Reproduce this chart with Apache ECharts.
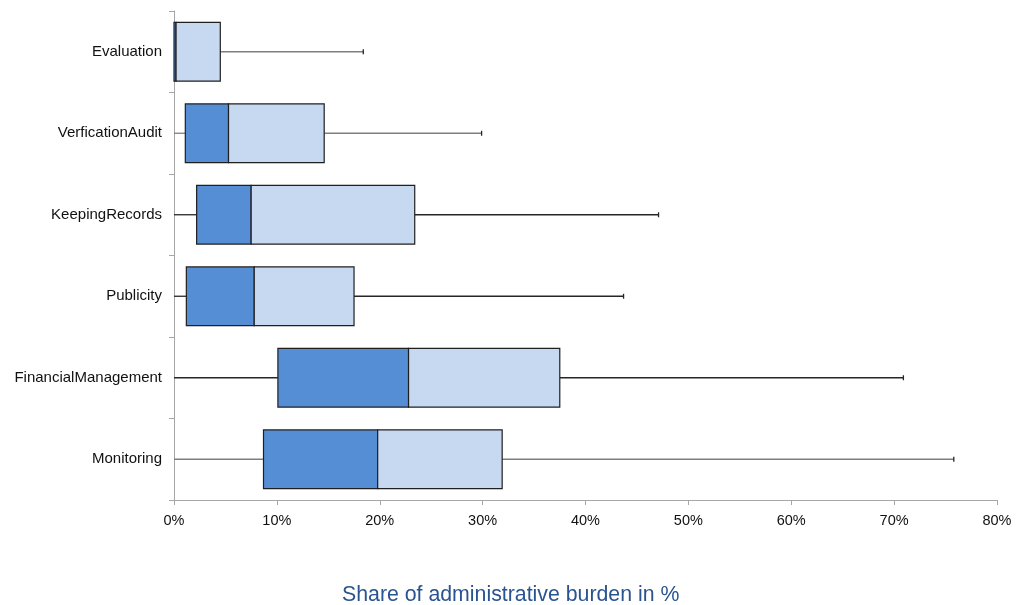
<!DOCTYPE html>
<html>
<head>
<meta charset="utf-8">
<title>Share of administrative burden</title>
<script src="https://cdn.jsdelivr.net/npm/echarts@6/dist/echarts.min.js"></script>
<style>
  html, body { margin: 0; padding: 0; background: #ffffff; }
  #chart { width: 1016px; height: 605px; }
</style>
</head>
<body>
<div id="chart"></div>
<script>
// Activity categories, listed top to bottom
const categories = ['Evaluation', 'VerficationAudit', 'KeepingRecords', 'Publicity', 'FinancialManagement', 'Monitoring'];

// Five-number summaries, share of administrative burden in %
const minValues    = [0,    0,    0,    0,    0,    0];
const q1Values     = [0,    1.1,  2.2,  1.2,  10.1, 8.7];
const medianValues = [0.2,  5.3,  7.5,  7.8,  22.8, 19.8];
const q3Values     = [4.5,  14.6, 23.4, 17.5, 37.5, 31.9];
const maxValues    = [18.4, 29.9, 47.1, 43.7, 70.9, 75.8];

// X axis tick range
const axisMin = 0;
const axisMax = 80;
const axisStep = 10;

// Whisker line shades per row
const whiskerColors = ['#7f7f7f', '#7f7f7f', '#262626', '#262626', '#262626', '#7f7f7f'];

const rows = categories.map((c, i) => [i, minValues[i], q1Values[i], medianValues[i], q3Values[i], maxValues[i]]);

const LOWER_COLOR = '#558ed5';
const UPPER_COLOR = '#c6d9f1';
const BORDER = '#1f1f1f';

function renderBox(params, api) {
  const cat = api.value(0);
  const vMin = api.value(1), vQ1 = api.value(2), vMed = api.value(3), vQ3 = api.value(4), vMax = api.value(5);
  const band = api.size([0, 1])[1];
  const h = band * 0.72;
  const pMin = api.coord([vMin, cat]);
  const pQ1 = api.coord([vQ1, cat]);
  const pMed = api.coord([vMed, cat]);
  const pQ3 = api.coord([vQ3, cat]);
  const pMax = api.coord([vMax, cat]);
  const y = pQ1[1];
  const wColor = whiskerColors[params.dataIndex];
  const lineStyle = { stroke: wColor, lineWidth: 1.3 };
  const children = [];
  if (pQ1[0] - pMin[0] > 0.5) {
    children.push({ type: 'line', shape: { x1: pMin[0], y1: y, x2: pQ1[0], y2: y }, style: lineStyle });
  }
  children.push({ type: 'line', shape: { x1: pQ3[0], y1: y, x2: pMax[0], y2: y }, style: lineStyle });
  children.push({ type: 'line', shape: { x1: pMax[0], y1: y - 2.5, x2: pMax[0], y2: y + 2.5 }, style: { stroke: '#262626', lineWidth: 1.3 } });
  children.push({
    type: 'rect',
    shape: { x: pQ1[0], y: y - h / 2, width: pMed[0] - pQ1[0], height: h },
    style: { fill: LOWER_COLOR, stroke: BORDER, lineWidth: 1.2 }
  });
  children.push({
    type: 'rect',
    shape: { x: pMed[0], y: y - h / 2, width: pQ3[0] - pMed[0], height: h },
    style: { fill: UPPER_COLOR, stroke: BORDER, lineWidth: 1.2 }
  });
  return { type: 'group', children: children };
}

const chart = echarts.init(document.getElementById('chart'), null, { renderer: 'canvas' });

chart.setOption({
  animation: false,
  backgroundColor: '#ffffff',
  textStyle: { fontFamily: '"Liberation Sans", Arial, sans-serif' },
  grid: { left: 174, right: 19, top: 11, bottom: 105, containLabel: false },
  xAxis: {
    type: 'value',
    min: axisMin,
    max: axisMax,
    interval: axisStep,
    axisLine: { show: true, lineStyle: { color: '#a6a6a6', width: 1 } },
    axisTick: { show: true, length: 5, lineStyle: { color: '#a6a6a6' } },
    splitLine: { show: false },
    axisLabel: { formatter: '{value}%', color: '#111111', fontSize: 14.5, margin: 13 }
  },
  yAxis: {
    type: 'category',
    data: categories,
    inverse: true,
    axisLine: { show: true, lineStyle: { color: '#a6a6a6', width: 1 } },
    axisTick: { show: true, length: 5, lineStyle: { color: '#a6a6a6' } },
    splitLine: { show: false },
    axisLabel: { color: '#111111', fontSize: 15, margin: 12, padding: [2, 0, 0, 0] }
  },
  graphic: [{
    type: 'text',
    left: 342,
    top: 585,
    style: {
      text: 'Share of administrative burden in %',
      fill: '#2a5490',
      font: '21.3px "Liberation Sans", Arial, sans-serif'
    }
  }],
  series: [{
    type: 'custom',
    renderItem: renderBox,
    encode: { x: [1, 2, 3, 4, 5], y: 0 },
    data: rows
  }]
});
</script>
</body>
</html>
